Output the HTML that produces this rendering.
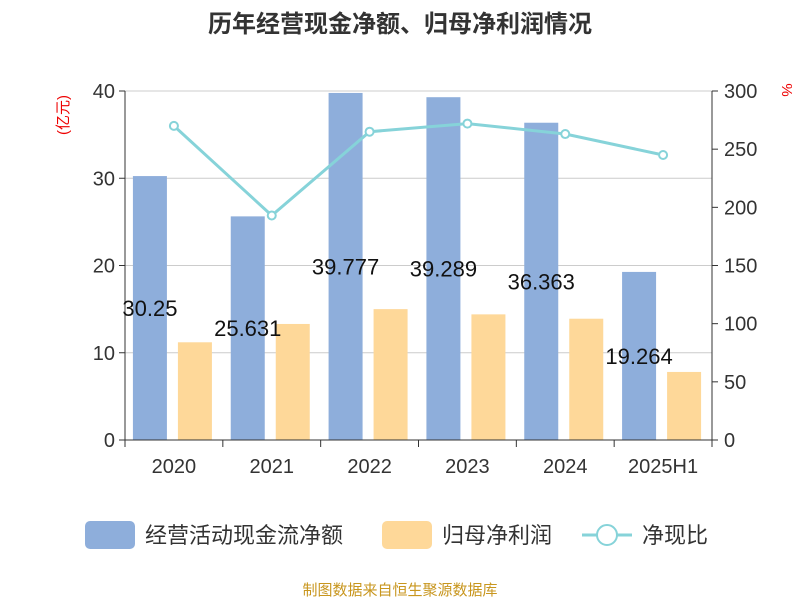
<!DOCTYPE html>
<html><head><meta charset="utf-8"><style>
body{margin:0;background:#fff;}
svg text{font-family:"Liberation Sans","Noto Sans CJK SC",sans-serif;}
</style></head><body>
<svg id="chart" width="800" height="600" viewBox="0 0 800 600" xmlns="http://www.w3.org/2000/svg">
<text x="400" y="32" text-anchor="middle" font-size="24" font-weight="bold" fill="#333">历年经营现金净额、归母净利润情况</text>
<text transform="translate(68,115) rotate(-90)" text-anchor="middle" font-size="15" fill="#e00">(亿元)</text>
<text transform="translate(782,90) rotate(90)" text-anchor="middle" font-size="15" fill="#e00">%</text>
<g id="grid"></g><g id="bars"></g><g id="axes"></g><g id="line"></g><g id="labels"></g>
<g>
<rect x="85" y="521" width="50" height="28" rx="5" fill="#8eaedb"/>
<text x="145" y="543" font-size="22" fill="#333">经营活动现金流净额</text>
<rect x="382" y="521" width="50" height="28" rx="5" fill="#fed899"/>
<text x="442" y="543" font-size="22" fill="#333">归母净利润</text>
<line x1="582" y1="535" x2="632" y2="535" stroke="#86d3d9" stroke-width="3"/>
<circle cx="607" cy="535" r="10" fill="#fff" stroke="#86d3d9" stroke-width="2"/>
<text x="642" y="543" font-size="22" fill="#333">净现比</text>
</g>
<text x="400" y="595" text-anchor="middle" font-size="15" fill="#c8961e">制图数据来自恒生聚源数据库</text>
</svg>
<script>
const categories=["2020","2021","2022","2023","2024","2025H1"];
const cashflow=[30.25,25.631,39.777,39.289,36.363,19.264];
const profit=[11.2,13.3,15.0,14.4,13.9,7.8];
const ratio=[270,193,265,272,263,245];
const leftTicks=[0,10,20,30,40];
const rightTicks=[0,50,100,150,200,250,300];
const NS="http://www.w3.org/2000/svg";
const X0=125,X1=712,Y0=440,Y1=91;
const bw=(X1-X0)/categories.length;
const yL=v=>Y0-(v/40)*(Y0-Y1);
const yR=v=>Y0-(v/300)*(Y0-Y1);
function mk(parent,tag,attrs){const e=document.createElementNS(NS,tag);for(const k in attrs)e.setAttribute(k,attrs[k]);document.getElementById(parent).appendChild(e);return e;}
leftTicks.forEach(t=>{
 const l=mk('grid','line',{x1:X0,x2:X1,y1:yL(t),y2:yL(t),stroke:'#ccc','stroke-width':1});
 
 
 const tk=mk('axes','line',{x1:X0-6,x2:X0,y1:yL(t),y2:yL(t),stroke:'#333'});
 
 
 const tx=mk('axes','text',{x:X0-10,y:yL(t)+7,'text-anchor':'end','font-size':20,fill:'#333'});
 tx.textContent=t;
 
 
});
rightTicks.forEach(t=>{
 const tk=mk('axes','line',{x1:X1,x2:X1+6,y1:yR(t),y2:yR(t),stroke:'#333'});
 
 
 const tx=mk('axes','text',{x:X1+12,y:yR(t)+7,'font-size':20,fill:'#333'});
 tx.textContent=t;
 
 
});
let a=mk('axes','line',{x1:X0,x2:X0,y1:Y1,y2:Y0,stroke:'#333'});


a=mk('axes','line',{x1:X1,x2:X1,y1:Y1,y2:Y0,stroke:'#333'});


a=mk('axes','line',{x1:X0,x2:X1,y1:Y0,y2:Y0,stroke:'#333'});


for(let i=0;i<=categories.length;i++){
 const t=mk('axes','line',{x1:X0+i*bw,x2:X0+i*bw,y1:Y0,y2:Y0+7,stroke:'#333'});
 
 
}
const pts=[];
categories.forEach((c,i)=>{
 const cx=X0+bw*(i+0.5);
 const b=mk('bars','rect',{x:cx-41,y:yL(cashflow[i]),width:34,height:Y0-yL(cashflow[i]),fill:'#8eaedb'});
 
 
 const p=mk('bars','rect',{x:cx+4,y:yL(profit[i]),width:34,height:Y0-yL(profit[i]),fill:'#fed899'});
 
 
 const lb=mk('labels','text',{x:cx-24,y:(yL(cashflow[i])+Y0)/2+8,'text-anchor':'middle','font-size':22,fill:'#111'});
 lb.textContent=cashflow[i];
 
 
 const xl=mk('axes','text',{x:cx,y:473,'text-anchor':'middle','font-size':20,fill:'#333'});
 xl.textContent=c;
 
 
 pts.push([cx,yR(ratio[i])]);
});
const pl=mk('line','polyline',{points:pts.map(p=>p.join(',')).join(' '),fill:'none',stroke:'#86d3d9','stroke-width':3});


pts.forEach((p,i)=>{
 const c=mk('line','circle',{cx:p[0],cy:p[1],r:4,fill:'#fff',stroke:'#86d3d9','stroke-width':2});
 
 
});
</script>
</body></html>
